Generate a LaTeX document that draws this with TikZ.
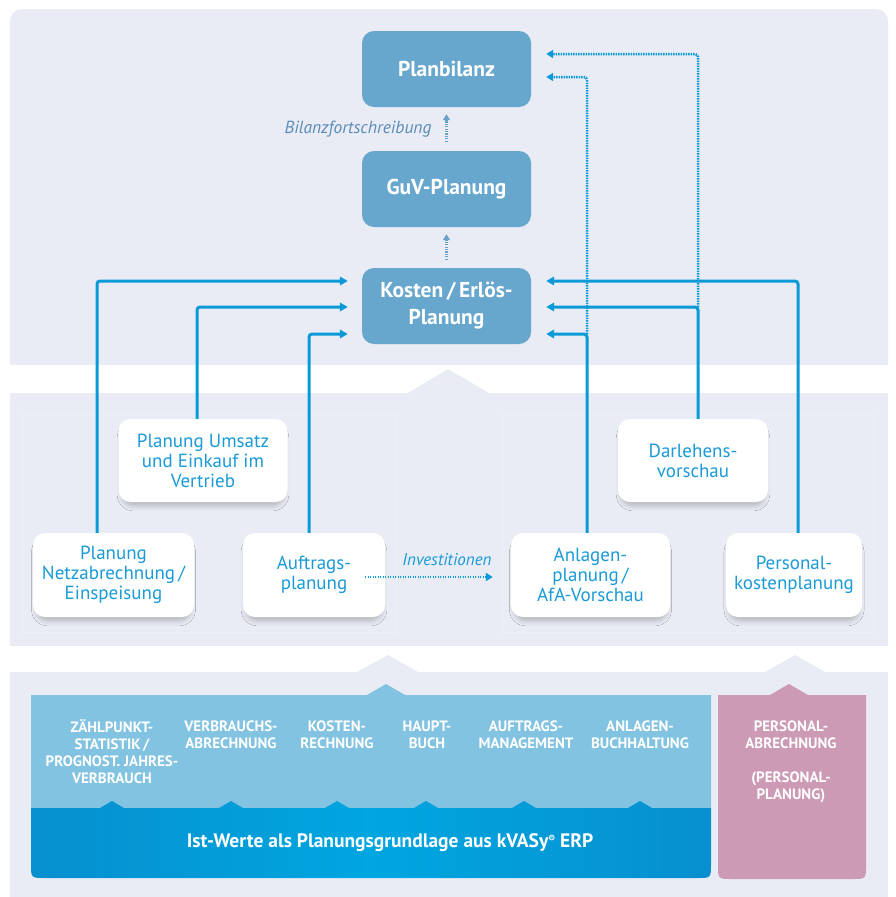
\documentclass[tikz,border=0pt]{standalone}
\usepackage{fontspec}
\setmainfont{PT Sans}
\usetikzlibrary{arrows.meta,shadows.blur}
\definecolor{panel}{HTML}{E9ECF4}
\definecolor{framec}{HTML}{EEF0F7}
\definecolor{topbox}{HTML}{67A7CD}
\definecolor{lineblue}{HTML}{0A9AD7}
\definecolor{textblue}{HTML}{1A9AD7}
\definecolor{smallarr}{HTML}{6AA2C8}
\definecolor{labgray}{HTML}{5B8CB8}
\definecolor{erplight}{HTML}{82C3E2}
\definecolor{erpdarkA}{HTML}{078FCF}
\definecolor{erpdarkB}{HTML}{00A6E0}
\definecolor{pinkbox}{HTML}{CC9AB4}
\begin{document}
\begin{tikzpicture}[x=1pt,y=-1pt,
  topnode/.style={fill=topbox, rounded corners=12pt, minimum width=169pt, minimum height=76pt,
    text=white, align=center, inner sep=0pt,
    font=\fontsize{21.5}{27}\selectfont\bfseries},
  whitenode/.style={fill=white, rounded corners=12pt, minimum height=84pt, inner sep=0pt,
    text=textblue, align=center, font=\fontsize{19}{20}\selectfont,
    blur shadow={shadow xshift=0pt, shadow yshift=-6pt, shadow scale=0.96,
      shadow blur radius=5pt, shadow opacity=22}},
  conn/.style={draw=lineblue, line width=3pt, rounded corners=3pt,
    -{Triangle[length=8pt,width=8.5pt]}},
  dotconn/.style={draw=lineblue, line width=2.5pt, dash pattern=on 1.4pt off 1.1pt,
    rounded corners=3pt, -{Triangle[length=7pt,width=8pt]}},
  smalldot/.style={draw=smallarr, line width=2.2pt, dash pattern=on 1.3pt off 1.1pt,
    -{Triangle[length=6pt,width=7pt]}},
  coltext/.style={text=white, align=center, anchor=north, inner sep=0pt,
    font=\fontsize{15}{17}\selectfont\bfseries},
  italab/.style={font=\fontsize{17.5}{20}\selectfont\itshape, inner sep=0pt}
]
\useasboundingbox (0,0) rectangle (895,897);
\fill[white] (0,0) rectangle (895,897);
% panels
\fill[panel, rounded corners=12pt] (10,9) rectangle (888,385);
\fill[white] (0,365) rectangle (895,393);
\fill[panel] (408,393) -- (448,369) -- (489,393) -- cycle;
\fill[panel] (10,393) rectangle (888,646);
\fill[panel] (357,672) -- (388,655) -- (418,672) -- cycle;
\fill[panel] (765,672) -- (795,655) -- (825,672) -- cycle;
\fill[panel] (10,672) rectangle (888,897);
\draw[framec, line width=1pt] (23,414) rectangle (396,632);
\draw[framec, line width=1pt] (503,414) rectangle (873,632);

% top boxes
\node[topnode] (plan) at (446.5,69) {Planbilanz};
\node[topnode] (guv) at (446.5,189) {GuV-Planung};
\node[topnode] (kost) at (446.5,306) {Kosten\,/\,Erlös-\\Planung};

% white boxes
\node[whitenode, minimum width=169pt, minimum height=83pt] (umsatz) at (203,460.5) {Planung Umsatz\\und Einkauf im\\Vertrieb};
\node[whitenode, minimum width=150pt, minimum height=83pt] (darl) at (693,460.5) {Darlehens-\\vorschau};
\node[whitenode, minimum width=161pt] (netz) at (113.5,575) {Planung\\Netzabrechnung\,/\\Einspeisung};
\node[whitenode, minimum width=142pt] (auftr) at (314,575) {Auftrags-\\planung};
\node[whitenode, minimum width=159pt] (anl) at (590.5,575) {Anlagen-\\planung\,/\\AfA-Vorschau};
\node[whitenode, minimum width=136pt] (pers) at (794,575) {Personal-\\kostenplanung};

% x positions of the risers
\coordinate (xa) at (97,0);
\coordinate (xb) at (197,0);
\coordinate (xc) at (309,0);
\coordinate (xd) at (587,0);
\coordinate (xe) at (698,0);
\coordinate (xf) at (798,0);

% dotted to Planbilanz
\coordinate (da) at (587,334);
\coordinate (db) at (698,307);
\draw[dotconn, shorten >=15pt] (da) |- ([yshift=-8pt]plan.east);
\draw[dotconn, shorten >=15pt] (db) |- ([yshift=15pt]plan.east);

% solid connectors
\draw[conn, shorten >=14pt] (netz.north -| xa) |- ([yshift=25pt]kost.west);
\draw[conn, shorten >=14pt] (umsatz.north -| xb) |- ([yshift=-1pt]kost.west);
\draw[conn, shorten >=14pt] (auftr.north -| xc) |- ([yshift=-28pt]kost.west);
\draw[conn, shorten >=15pt] (anl.north -| xd) |- ([yshift=-28pt]kost.east);
\draw[conn, shorten >=15pt] (darl.north -| xe) |- ([yshift=-1pt]kost.east);
\draw[conn, shorten >=15pt] (pers.north -| xf) |- ([yshift=25pt]kost.east);

% small dotted arrows
\draw[smalldot] ([yshift=9pt]guv.north) -- ([yshift=-7pt]plan.south);
\draw[smalldot] ([yshift=8pt]kost.north) -- ([yshift=-7pt]guv.south);
\node[italab, text=labgray] (lbil) at (358,129) {Bilanzfortschreibung};

% Investitionen
\coordinate (ia) at (365,577);
\draw[dotconn, shorten >=0pt] (ia) -- ([xshift=-18pt]anl.west |- ia);
\node[italab, text=textblue, font=\fontsize{17}{20}\selectfont\itshape] (linv) at (447,560) {Investitionen};

% ERP block
\fill[erplight] (31,695) -- (367,695) -- (386,684) -- (405,695) -- (711,695) -- (711,808) -- (31,808) -- cycle;
\path[left color=erpdarkA, right color=erpdarkA, middle color=erpdarkB]
  (31,808) -- (100,808) -- (112,801) -- (124,808)
  -- (219,808) -- (231,801) -- (243,808)
  -- (325,808) -- (337,801) -- (349,808)
  -- (414,808) -- (426,801) -- (438,808)
  -- (512,808) -- (524,801) -- (536,808)
  -- (628,808) -- (640,801) -- (652,808)
  -- (711,808) -- (711,864) .. controls (711,878) .. (697,878)
  -- (45,878) .. controls (31,878) .. (31,864) -- cycle;
\fill[pinkbox] (718,695) -- (770,695) -- (789,684) -- (808,695) -- (866,695)
  -- (866,865) .. controls (866,879) .. (852,879) -- (732,879) .. controls (718,879) .. (718,865) -- cycle;

\node[coltext] (c1) at (112,719) {\strut ZÄHLPUNKT-\\STATISTIK\,/\\PROGNOST. JAHRES-\\VERBRAUCH};
\node[coltext] (c2) at (231,719) {\strut VERBRAUCHS-\\ABRECHNUNG};
\node[coltext] (c3) at (337,719) {\strut KOSTEN-\\RECHNUNG};
\node[coltext] (c4) at (427,719) {\strut HAUPT-\\BUCH};
\node[coltext] (c5) at (526,719) {\strut AUFTRAGS-\\MANAGEMENT};
\node[coltext] (c6) at (640,719) {\strut ANLAGEN-\\BUCHHALTUNG};
\node[coltext] (p1) at (791,719) {\strut PERSONAL-\\ABRECHNUNG\\[17pt](PERSONAL-\\PLANUNG)};
\node[text=white, inner sep=0pt, font=\fontsize{19.5}{22}\selectfont\bfseries] (erp) at (390,843)
  {Ist-Werte als Planungsgrundlage aus kVASy\raisebox{0.6ex}{\fontsize{10}{10}\selectfont ®} ERP};
\end{tikzpicture}
\end{document}
